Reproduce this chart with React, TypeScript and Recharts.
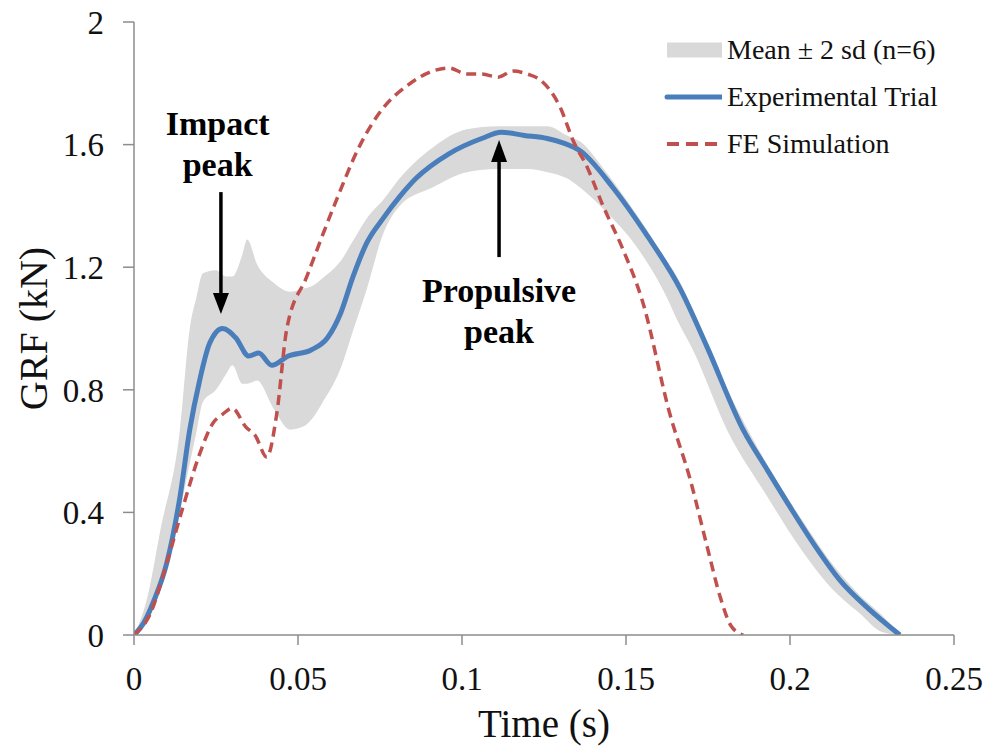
import {
  ComposedChart,
  Area,
  Line,
  XAxis,
  YAxis,
  Legend,
  ReferenceLine,
  ReferenceDot
} from 'recharts';

// Experimental trial (blue)
const expTime = [
  0, 0.003, 0.006, 0.01, 0.014, 0.017, 0.02, 0.023, 0.027, 0.031, 0.035, 0.038,
  0.042, 0.047, 0.054, 0.059, 0.063, 0.0668, 0.071, 0.076, 0.081, 0.086, 0.096,
  0.106, 0.112, 0.119, 0.126, 0.131, 0.136, 0.146, 0.156, 0.1665, 0.1747, 0.1857,
  0.193, 0.2, 0.208, 0.2152, 0.224, 0.2335
];
const expGrf = [
  0, 0.04, 0.11, 0.235, 0.45, 0.67, 0.83, 0.95, 1.0, 0.97, 0.91, 0.92,
  0.88, 0.91, 0.93, 0.97, 1.05, 1.17, 1.28, 1.36, 1.43, 1.49, 1.57,
  1.62, 1.64, 1.63, 1.62, 1.605, 1.58, 1.46, 1.31, 1.13, 0.94, 0.67,
  0.54, 0.418, 0.285, 0.179, 0.085, 0
];

// FE simulation (red dashed)
const feTime = [
  0, 0.005, 0.01, 0.015, 0.02, 0.024, 0.027, 0.03, 0.034, 0.037, 0.0405, 0.0435,
  0.0466, 0.0527, 0.061, 0.069, 0.076, 0.083, 0.091, 0.096, 0.1015, 0.106, 0.111,
  0.1155, 0.12, 0.124, 0.13, 0.134, 0.138, 0.143, 0.149, 0.155, 0.1634, 0.1695,
  0.1747, 0.1787, 0.182, 0.1857
];
const feGrf = [
  0, 0.07, 0.235, 0.42, 0.59, 0.69, 0.72, 0.74, 0.68, 0.65, 0.58, 0.72,
  1.0, 1.17, 1.4, 1.6, 1.72, 1.79, 1.84, 1.85, 1.83, 1.83, 1.82,
  1.84, 1.83, 1.81, 1.72, 1.61, 1.53, 1.4, 1.26, 1.09, 0.72, 0.51,
  0.29, 0.125, 0.03, 0
];

// Mean ± 2 sd band (grey)
const bandTime = [
  0, 0.004, 0.008, 0.014, 0.017, 0.019, 0.021, 0.025, 0.028, 0.03, 0.033, 0.0345,
  0.0375, 0.0425, 0.0476, 0.0516, 0.0546, 0.057, 0.063, 0.067, 0.071, 0.076,
  0.081, 0.091, 0.1015, 0.111, 0.12, 0.126, 0.132, 0.136, 0.144, 0.153, 0.1625,
  0.1655, 0.1704, 0.181, 0.192, 0.204, 0.212, 0.2213, 0.228, 0.2335
];
const bandLow = [
  0, 0.04, 0.15, 0.4, 0.56, 0.66, 0.76, 0.8, 0.85, 0.88, 0.82, 0.82,
  0.83, 0.74, 0.67, 0.68, 0.71, 0.75, 0.87, 1.0, 1.13, 1.31,
  1.4, 1.46, 1.51, 1.52, 1.52, 1.51, 1.49, 1.46, 1.38, 1.27, 1.1,
  1.03, 0.93, 0.665, 0.47, 0.27, 0.16, 0.07, 0.01, 0
];
const bandHigh = [
  0, 0.12, 0.34, 0.67, 1.0, 1.1, 1.18, 1.19, 1.17, 1.17, 1.24, 1.29,
  1.21, 1.15, 1.12, 1.13, 1.14, 1.16, 1.22, 1.29, 1.36, 1.42,
  1.49, 1.59, 1.65, 1.66, 1.66, 1.66, 1.63, 1.61, 1.51, 1.375, 1.22,
  1.17, 1.06, 0.8, 0.575, 0.37, 0.245, 0.13, 0.065, 0
];

const xTicks = [0, 0.05, 0.1, 0.15, 0.2, 0.25];
const yTicks = [0, 0.4, 0.8, 1.2, 1.6, 2];

const SERIF = '"Liberation Serif", "Times New Roman", serif';
const BLUE = '#4A7EBB';
const RED = '#C0504D';
const GREY = '#D9D9D9';
const AXIS = '#8C8C8C';

const expData = expTime.map((t, i) => ({ t, grf: expGrf[i] }));
const feData = feTime.map((t, i) => ({ t, grf: feGrf[i] }));
const bandData = bandTime.map((t, i) => ({ t, range: [bandLow[i], bandHigh[i]] }));

const legendRows = [
  { label: 'Mean \u00B1 2 sd (n=6)', kind: 'band' },
  { label: 'Experimental Trial', kind: 'line' },
  { label: 'FE Simulation', kind: 'dash' }
];

const LegendBox = () => (
  <div style={{ fontFamily: SERIF, fontSize: 28, color: '#111' }}>
    {legendRows.map((r) => (
      <div key={r.label} style={{ height: 47, display: 'flex', alignItems: 'center' }}>
        <svg width={58} height={20}>
          {r.kind === 'band' && <rect x={3} y={2.5} width={55} height={15} fill={GREY} />}
          {r.kind === 'line' && (
            <line x1={3} x2={58} y1={10} y2={10} stroke={BLUE} strokeWidth={5} strokeLinecap="round" />
          )}
          {r.kind === 'dash' && (
            <line x1={3} x2={58} y1={10} y2={10} stroke={RED} strokeWidth={4} strokeDasharray="12 7" />
          )}
        </svg>
        <span style={{ marginLeft: 5, whiteSpace: 'nowrap' }}>{r.label}</span>
      </div>
    ))}
  </div>
);

const arrowDown = (p: any) => (
  <polygon
    points={`${p.cx},${p.cy} ${p.cx - 8},${p.cy - 21} ${p.cx + 8},${p.cy - 21}`}
    fill="#000"
  />
);
const arrowUp = (p: any) => (
  <polygon
    points={`${p.cx},${p.cy} ${p.cx - 8},${p.cy + 22} ${p.cx + 8},${p.cy + 22}`}
    fill="#000"
  />
);
const note = (lines: string[]) => (p: any) => (
  <text
    x={p.cx}
    y={p.cy}
    textAnchor="middle"
    fontFamily={SERIF}
    fontWeight="bold"
    fontSize={34}
    fill="#000"
  >
    {lines.map((l, i) => (
      <tspan key={l} x={p.cx} dy={i === 0 ? 0 : 41}>
        {l}
      </tspan>
    ))}
  </text>
);

export default function App() {
  return (
    <div style={{ position: 'absolute', left: 0, top: 0, background: '#fff' }}>
      <ComposedChart width={990} height={753} margin={{ top: 22, right: 36, left: 0, bottom: 0 }}>
        <XAxis
          type="number"
          dataKey="t"
          domain={[0, 0.25]}
          ticks={xTicks}
          allowDataOverflow
          tickSize={10}
          tickMargin={22}
          height={118}
          axisLine={{ stroke: AXIS, strokeWidth: 1.5 }}
          tickLine={{ stroke: AXIS, strokeWidth: 1.5 }}
          tick={{ fontFamily: SERIF, fontSize: 33, fill: '#111' }}
          label={{
            value: 'Time (s)',
            position: 'insideBottom',
            offset: 16,
            style: { fontFamily: SERIF, fontSize: 39, fill: '#111' }
          }}
        />
        <YAxis
          type="number"
          domain={[0, 2]}
          ticks={yTicks}
          allowDataOverflow
          width={134}
          tickSize={11}
          tickMargin={19}
          axisLine={{ stroke: AXIS, strokeWidth: 1.5 }}
          tickLine={{ stroke: AXIS, strokeWidth: 1.5 }}
          tick={{ fontFamily: SERIF, fontSize: 33, fill: '#111' }}
          label={{
            value: 'GRF (kN)',
            angle: -90,
            position: 'insideLeft',
            offset: 33,
            style: { textAnchor: 'middle', fontFamily: SERIF, fontSize: 40, fill: '#111' }
          }}
        />
        <Legend
          layout="horizontal"
          verticalAlign="middle"
          align="center"
          wrapperStyle={{ top: 26, left: 664, width: 320 }}
          content={() => <LegendBox />}
        />
        <Area
          data={bandData}
          dataKey="range"
          type="monotone"
          stroke="none"
          fill={GREY}
          fillOpacity={1}
          isAnimationActive={false}
          name="Mean ± 2 sd (n=6)"
        />
        <Line
          data={expData}
          dataKey="grf"
          type="monotone"
          stroke={BLUE}
          strokeWidth={5}
          dot={false}
          isAnimationActive={false}
          name="Experimental Trial"
        />
        <Line
          data={feData}
          dataKey="grf"
          type="monotone"
          stroke={RED}
          strokeWidth={3.5}
          strokeDasharray="10 6"
          dot={false}
          isAnimationActive={false}
          name="FE Simulation"
        />
        <ReferenceLine
          segment={[{ x: 0.0265, y: 1.445 }, { x: 0.0265, y: 1.09 }]}
          stroke="#000"
          strokeWidth={3.5}
        />
        <ReferenceDot x={0.0265} y={1.047} shape={arrowDown} />
        <ReferenceLine
          segment={[{ x: 0.1113, y: 1.233 }, { x: 0.1113, y: 1.56 }]}
          stroke="#000"
          strokeWidth={3.5}
        />
        <ReferenceDot x={0.1113} y={1.615} shape={arrowUp} />
        <ReferenceDot x={0.0255} y={1.631} shape={note(['Impact', 'peak'])} />
        <ReferenceDot x={0.1113} y={1.086} shape={note(['Propulsive', 'peak'])} />
      </ComposedChart>
    </div>
  );
}
